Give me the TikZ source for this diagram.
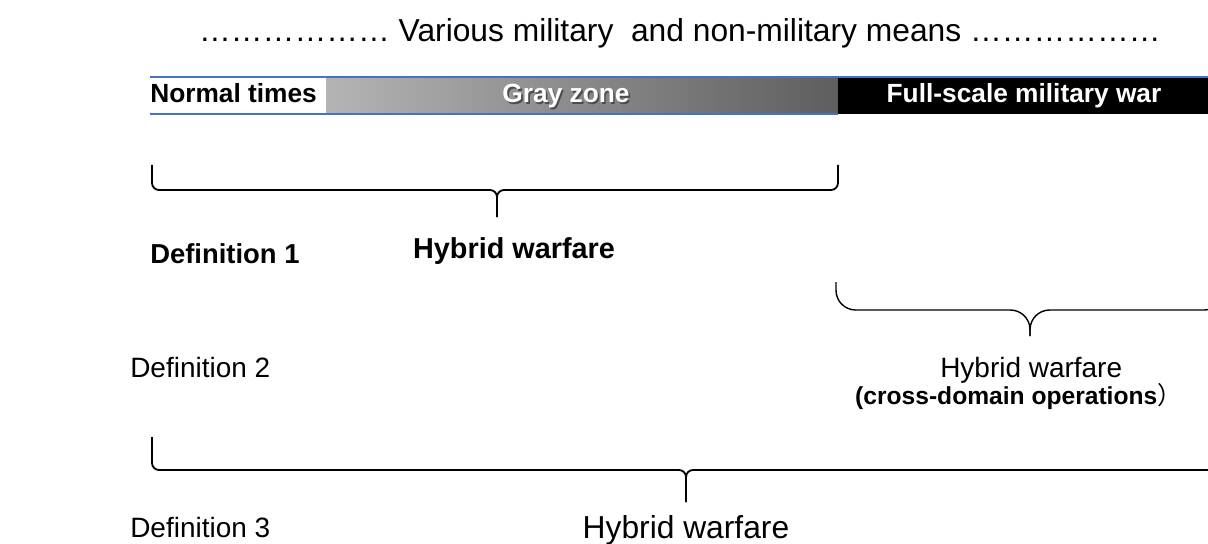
\documentclass[tikz,border=0pt]{standalone}
\usepackage{fontspec}
\setmainfont{Liberation Sans}
\newfontfamily\cjk{Noto Sans CJK SC}
\usepackage{xcolor}
\usepackage{tikz}
\usetikzlibrary{positioning}

\definecolor{barblue}{HTML}{4472C4}
\definecolor{grayleft}{HTML}{B4B4B4}
\definecolor{grayright}{HTML}{5E5E5E}

\begin{document}
\begin{tikzpicture}[
    big text/.style = {font=\fontsize{22.6}{26}\selectfont, inner sep=0pt},
    def text/.style = {font=\fontsize{19.9}{23}\selectfont, inner sep=0pt, anchor=base west},
    bar text/.style = {font=\fontsize{18.7}{21}\selectfont\bfseries, inner sep=0pt, anchor=base},
    brace line/.style = {draw=black, line width=1.3pt},
    small brace/.style = {brace line, rounded corners=5pt},
    wide brace/.style = {brace line, line width=1pt, rounded corners=14pt}
]

\useasboundingbox (0,0) rectangle (30.2,-13.6);

% means and the bar
\node [big text, anchor=base] (means) at (17,-1.05)
    {\textellipsis\textellipsis\textellipsis\textellipsis\textellipsis\textellipsis\ Various military\ \ and non-military means \textellipsis\textellipsis\textellipsis\textellipsis\textellipsis\textellipsis};

\fill [white] (3.75,-1.925) rectangle (8.15,-2.85);
\shade [left color=grayleft, right color=grayright] (8.15,-1.925) rectangle (20.95,-2.85);
\fill [black] (20.95,-1.925) rectangle (30.3,-2.85);
\draw [barblue, line width=0.8pt] (3.75,-1.925) -- (30.3,-1.925);
\draw [barblue, line width=0.8pt] (3.75,-2.85) -- (20.95,-2.85);

\node [bar text, anchor=base west] (normal) at (3.75,-2.575) {Normal times};
\node [bar text, text=black!70] at (14.19,-2.615) {Gray zone};
\node [bar text, text=white] (gray) at (14.15,-2.575) {Gray zone};
\node [bar text, text=white] (full) at (25.6,-2.575) {Full-scale military war};

% definition 1
\draw [small brace] (3.8,-4.125) |- (12.425,-4.75) -- (12.425,-5.425);
\draw [small brace] (20.95,-4.125) |- (12.425,-4.75) -- (12.425,-5.425);
\node [def text, font=\fontsize{19.5}{23}\selectfont\bfseries] (def1) at (3.75,-6.575) {Definition 1};
\node [big text, font=\fontsize{20.5}{23}\selectfont\bfseries, anchor=base] (hw1) at (12.85,-6.45) {Hybrid warfare};

% definition 2
\draw [wide brace] (20.9,-7.05) |- (25.75,-7.75) -- (25.75,-8.4);
\draw [wide brace] (30.6,-7.05) |- (25.75,-7.75) -- (25.75,-8.4);
\node [def text] (def2) at (3.25,-9.425) {Definition 2};
\node [big text, font=\fontsize{19.9}{23}\selectfont, anchor=base] (hw2) at (25.78,-9.425) {Hybrid warfare};
\node [font=\fontsize{17.5}{20}\selectfont\bfseries, inner sep=0pt, below=0.15 of hw2.base, xshift=-9pt] (cdo)
    {(cross-domain operations{\cjk\mdseries ）}};

% definition 3
\draw [small brace] (3.8,-10.925) |- (17.15,-11.75) -- (17.15,-12.55);
\draw [small brace] (30.5,-10.925) |- (17.15,-11.75) -- (17.15,-12.55);
\node [def text] (def3) at (3.25,-13.425) {Definition 3};
\node [big text, anchor=base] (hw3) at (17.15,-13.45) {Hybrid warfare};

\end{tikzpicture}
\end{document}
